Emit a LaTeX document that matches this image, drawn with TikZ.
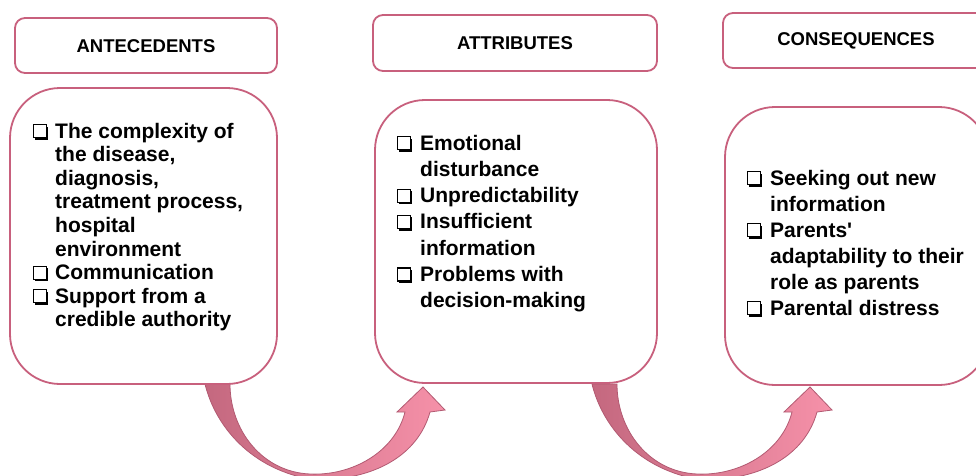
\documentclass[tikz,border=0pt]{standalone}
\usepackage{fontspec}
\setmainfont{Liberation Sans}[Ligatures=TeXOff]
\definecolor{boxc}{HTML}{C8607D}
\definecolor{arrdark}{HTML}{C4687F}
\definecolor{arrlight}{HTML}{F691A9}
\definecolor{arredge}{HTML}{B25A72}
\newcommand{\cbx}{\tikz[baseline=0pt,x=1pt,y=1pt,line width=1.1pt]{%
  \draw (0.55,0.55) rectangle (13,13.5);
  \fill (2.2,-1.8) rectangle (15,0);
  \fill (13.5,-1.8) rectangle (15,11.5);}}
\begin{document}
\begin{tikzpicture}[x=1pt,y=-1pt,
  hdrbox/.style={draw=boxc, line width=1.8pt, rounded corners=10pt, fill=white},
  mainbox/.style={draw=boxc, line width=1.8pt, rounded corners=50pt, fill=white},
  hdrtext/.style={font=\fontsize{18.5}{22}\selectfont\bfseries, inner sep=0pt},
  listtext/.style={anchor=base west, inner sep=0pt},
  blockarrow/.style={left color=arrdark, right color=arrlight, draw=arredge, line width=0.8pt}]
\useasboundingbox (0,0) rectangle (976,475);
\clip (0,0) rectangle (976,475);

% curved block arrows
\foreach \s in {0,387}{
\begin{scope}[xshift=\s pt]
\path[blockarrow] (205,384)
  .. controls (215,425) and (250,470) .. (315,480)
  .. controls (375,480) and (418,455) .. (430,412)
  -- (445,410) -- (423,387) -- (397,412) -- (405,412)
  .. controls (395,452) and (352,476) .. (310,474)
  .. controls (262,472) and (230,430) .. (230,384) -- cycle;
\end{scope}
}

% header boxes
\draw[hdrbox] (15,18) rectangle (277,73);
\draw[hdrbox] (373,15) rectangle (657,71);
\draw[hdrbox] (723,13) rectangle (989,68);
\node[hdrtext] (h1) at (146,46) {ANTECEDENTS};
\node[hdrtext] (h2) at (515,43) {ATTRIBUTES};
\node[hdrtext] (h3) at (856,40.5) {CONSEQUENCES};

% main boxes
\draw[mainbox] (10,88) rectangle (277,384);
\draw[mainbox] (375,100) rectangle (657,383);
\draw[mainbox] (725,107) rectangle (989,385);

\node[listtext] (l1) at (33,138) {\fontsize{21}{23.6}\selectfont\bfseries
\begin{tabular}[t]{@{}p{22pt}@{}l@{}}
\cbx & The complexity of\\
 & the disease,\\
 & diagnosis,\\
 & treatment process,\\
 & hospital\\
 & environment\\
\cbx & Communication\\
\cbx & Support from a\\
 & credible authority
\end{tabular}};

\node[listtext] (l2) at (397,150) {\fontsize{21}{26.3}\selectfont\bfseries
\begin{tabular}[t]{@{}p{23pt}@{}l@{}}
\cbx & Emotional\\
 & disturbance\\
\cbx & Unpredictability\\
\cbx & Insufficient\\
 & information\\
\cbx & Problems with\\
 & decision-making
\end{tabular}};

\node[listtext] (l3) at (747,185) {\fontsize{21}{26}\selectfont\bfseries
\begin{tabular}[t]{@{}p{23pt}@{}l@{}}
\cbx & Seeking out new\\
 & information\\
\cbx & Parents'\\
 & adaptability to their\\
 & role as parents\\
\cbx & Parental distress
\end{tabular}};
\end{tikzpicture}
\end{document}
